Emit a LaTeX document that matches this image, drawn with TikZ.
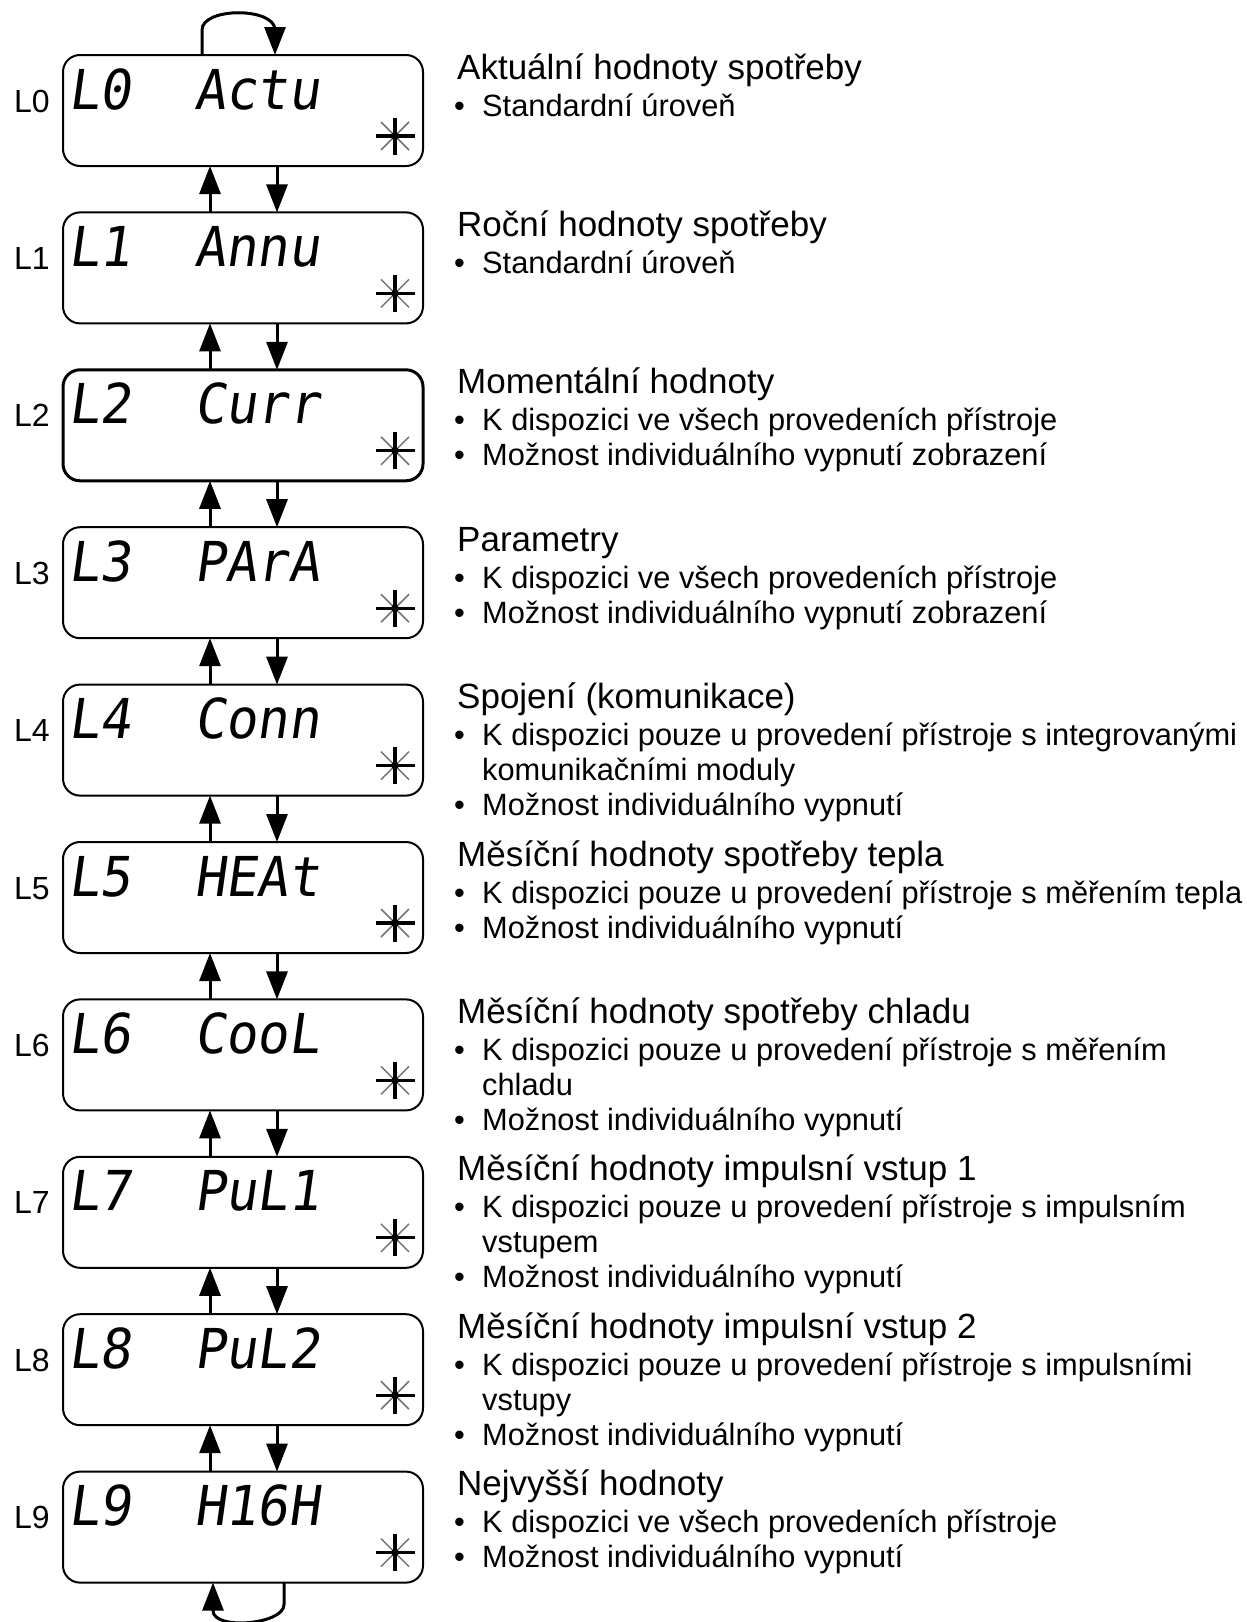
\documentclass[tikz,border=0pt]{standalone}
\usepackage{fontspec}
\setmainfont{Liberation Sans}
\newfontfamily\lcdfont[FakeSlant=0.14,FakeStretch=0.95]{DejaVu Sans Mono}
\usetikzlibrary{arrows.meta,positioning}
\newcommand{\itemlist}[1]{\begin{tabular}[t]{@{}p{28pt}@{}l@{}}#1\end{tabular}}

\begin{document}
\begin{tikzpicture}[
  x=1pt, y=1pt,
  lcdbox/.style={
    draw,
    line width=2pt,
    rounded corners=17pt,
    minimum width=360pt,
    minimum height=111pt,
    inner sep=0pt,
    outer sep=0pt,
  },
  lcd/.style={font=\lcdfont\fontsize{55}{60}\selectfont, inner sep=0pt, anchor=base west},
  level/.style={font=\fontsize{32}{35}\selectfont, inner sep=0pt, anchor=base east},
  head/.style={font=\fontsize{35}{40}\selectfont, inner sep=0pt, anchor=base west},
  body/.style={font=\fontsize{30.8}{35}\selectfont, inner sep=0pt, anchor=base west},
  flow/.style={-{Triangle[length=28pt,width=21pt]}, line width=3pt},
  sun/.pic={
    \draw[line width=1.5pt, black!55] (-14,-14) -- (14,14) (-14,14) -- (14,-14);
    \draw[line width=3.2pt] (-19.5,0) -- (19.5,0) (0,-18.5) -- (0,18.5);
    \fill (0,0) circle[radius=3.8];
  },
]
\useasboundingbox (0,0) rectangle (1247,-1622);

% display boxes
\node[lcdbox] (L0) at (243,-110.5) {};
\node[lcdbox, below=46.4pt of L0] (L1) {};
\node[lcdbox, line width=3pt, below=46.4pt of L1] (L2) {};
\node[lcdbox, below=46.4pt of L2] (L3) {};
\node[lcdbox, below=46.4pt of L3] (L4) {};
\node[lcdbox, below=46.4pt of L4] (L5) {};
\node[lcdbox, below=46.4pt of L5] (L6) {};
\node[lcdbox, below=46.4pt of L6] (L7) {};
\node[lcdbox, below=46.4pt of L7] (L8) {};
\node[lcdbox, below=46.4pt of L8] (L9) {};

% level names
\node[level] (n0) at ([shift={(-13,-57)}]L0.north west) {L0};
\node[level] (n1) at ([shift={(-13,-57)}]L1.north west) {L1};
\node[level] (n2) at ([shift={(-13,-57)}]L2.north west) {L2};
\node[level] (n3) at ([shift={(-13,-57)}]L3.north west) {L3};
\node[level] (n4) at ([shift={(-13,-57)}]L4.north west) {L4};
\node[level] (n5) at ([shift={(-13,-57)}]L5.north west) {L5};
\node[level] (n6) at ([shift={(-13,-57)}]L6.north west) {L6};
\node[level] (n7) at ([shift={(-13,-57)}]L7.north west) {L7};
\node[level] (n8) at ([shift={(-13,-57)}]L8.north west) {L8};
\node[level] (n9) at ([shift={(-13,-57)}]L9.north west) {L9};

% display contents
\node[lcd] (d0) at ([shift={(5,-54)}]L0.north west) {L0~~Actu};
\node[lcd] (d1) at ([shift={(5,-54)}]L1.north west) {L1~~Annu};
\node[lcd] (d2) at ([shift={(5,-54)}]L2.north west) {L2~~Curr};
\node[lcd] (d3) at ([shift={(5,-54)}]L3.north west) {L3~~PArA};
\node[lcd] (d4) at ([shift={(5,-54)}]L4.north west) {L4~~Conn};
\node[lcd] (d5) at ([shift={(5,-54)}]L5.north west) {L5~~HEAt};
\node[lcd] (d6) at ([shift={(5,-54)}]L6.north west) {L6~~CooL};
\node[lcd] (d7) at ([shift={(5,-54)}]L7.north west) {L7~~PuL1};
\node[lcd] (d8) at ([shift={(5,-54)}]L8.north west) {L8~~PuL2};
\node[lcd] (d9) at ([shift={(5,-54)}]L9.north west) {L9~~H16H};

\pic at ([shift={(-28,30)}]L0.south east) {sun};
\pic at ([shift={(-28,30)}]L1.south east) {sun};
\pic at ([shift={(-28,30)}]L2.south east) {sun};
\pic at ([shift={(-28,30)}]L3.south east) {sun};
\pic at ([shift={(-28,30)}]L4.south east) {sun};
\pic at ([shift={(-28,30)}]L5.south east) {sun};
\pic at ([shift={(-28,30)}]L6.south east) {sun};
\pic at ([shift={(-28,30)}]L7.south east) {sun};
\pic at ([shift={(-28,30)}]L8.south east) {sun};
\pic at ([shift={(-28,30)}]L9.south east) {sun};

% descriptions
\node[head] (h0) at ([shift={(34,-24)}]L0.north east) {Aktuální hodnoty spotřeby};
\node[body] (b0) at ([shift={(31,-61)}]L0.north east) {\itemlist{• & Standardní úroveň}};

\node[head] (h1) at ([shift={(34,-24)}]L1.north east) {Roční hodnoty spotřeby};
\node[body] (b1) at ([shift={(31,-61)}]L1.north east) {\itemlist{• & Standardní úroveň}};

\node[head] (h2) at ([shift={(34,-24)}]L2.north east) {Momentální hodnoty};
\node[body] (b2) at ([shift={(31,-61)}]L2.north east) {\itemlist{
  • & K dispozici ve všech provedeních přístroje\\
  • & Možnost individuálního vypnutí zobrazení}};

\node[head] (h3) at ([shift={(34,-24)}]L3.north east) {Parametry};
\node[body] (b3) at ([shift={(31,-61)}]L3.north east) {\itemlist{
  • & K dispozici ve všech provedeních přístroje\\
  • & Možnost individuálního vypnutí zobrazení}};

\node[head] (h4) at ([shift={(34,-24)}]L4.north east) {Spojení (komunikace)};
\node[body] (b4) at ([shift={(31,-61)}]L4.north east) {\itemlist{
  • & K dispozici pouze u provedení přístroje s integrovanými\\
    & komunikačními moduly\\
  • & Možnost individuálního vypnutí}};

\node[head] (h5) at ([shift={(34,-24)}]L5.north east) {Měsíční hodnoty spotřeby tepla};
\node[body] (b5) at ([shift={(31,-61)}]L5.north east) {\itemlist{
  • & K dispozici pouze u provedení přístroje s měřením tepla\\
  • & Možnost individuálního vypnutí}};

\node[head] (h6) at ([shift={(34,-24)}]L6.north east) {Měsíční hodnoty spotřeby chladu};
\node[body] (b6) at ([shift={(31,-61)}]L6.north east) {\itemlist{
  • & K dispozici pouze u provedení přístroje s měřením\\
    & chladu\\
  • & Možnost individuálního vypnutí}};

\node[head] (h7) at ([shift={(34,-24)}]L7.north east) {Měsíční hodnoty impulsní vstup 1};
\node[body] (b7) at ([shift={(31,-61)}]L7.north east) {\itemlist{
  • & K dispozici pouze u provedení přístroje s impulsním\\
    & vstupem\\
  • & Možnost individuálního vypnutí}};

\node[head] (h8) at ([shift={(34,-24)}]L8.north east) {Měsíční hodnoty impulsní vstup 2};
\node[body] (b8) at ([shift={(31,-61)}]L8.north east) {\itemlist{
  • & K dispozici pouze u provedení přístroje s impulsními\\
    & vstupy\\
  • & Možnost individuálního vypnutí}};

\node[head] (h9) at ([shift={(34,-24)}]L9.north east) {Nejvyšší hodnoty};
\node[body] (b9) at ([shift={(31,-61)}]L9.north east) {\itemlist{
  • & K dispozici ve všech provedeních přístroje\\
  • & Možnost individuálního vypnutí}};

% navigation
\draw[flow] ([xshift=-41pt]L0.north) -- ++(0,25) .. controls +(0,23) and +(0,23) .. ([shift={(32pt,25pt)}]L0.north) -- ([xshift=32pt]L0.north);

\draw[flow] ([xshift=-33pt]L1.north) -- ([xshift=-33pt]L0.south);
\draw[flow] ([xshift=34pt]L0.south) -- ([xshift=34pt]L1.north);
\draw[flow] ([xshift=-33pt]L2.north) -- ([xshift=-33pt]L1.south);
\draw[flow] ([xshift=34pt]L1.south) -- ([xshift=34pt]L2.north);
\draw[flow] ([xshift=-33pt]L3.north) -- ([xshift=-33pt]L2.south);
\draw[flow] ([xshift=34pt]L2.south) -- ([xshift=34pt]L3.north);
\draw[flow] ([xshift=-33pt]L4.north) -- ([xshift=-33pt]L3.south);
\draw[flow] ([xshift=34pt]L3.south) -- ([xshift=34pt]L4.north);
\draw[flow] ([xshift=-33pt]L5.north) -- ([xshift=-33pt]L4.south);
\draw[flow] ([xshift=34pt]L4.south) -- ([xshift=34pt]L5.north);
\draw[flow] ([xshift=-33pt]L6.north) -- ([xshift=-33pt]L5.south);
\draw[flow] ([xshift=34pt]L5.south) -- ([xshift=34pt]L6.north);
\draw[flow] ([xshift=-33pt]L7.north) -- ([xshift=-33pt]L6.south);
\draw[flow] ([xshift=34pt]L6.south) -- ([xshift=34pt]L7.north);
\draw[flow] ([xshift=-33pt]L8.north) -- ([xshift=-33pt]L7.south);
\draw[flow] ([xshift=34pt]L7.south) -- ([xshift=34pt]L8.north);
\draw[flow] ([xshift=-33pt]L9.north) -- ([xshift=-33pt]L8.south);
\draw[flow] ([xshift=34pt]L8.south) -- ([xshift=34pt]L9.north);

\draw[flow] ([xshift=41pt]L9.south) -- ++(0,-22) .. controls +(0,-20) and +(0,-20) .. ([shift={(-30pt,-28pt)}]L9.south) -- ([xshift=-30pt]L9.south);

\end{tikzpicture}
\end{document}
